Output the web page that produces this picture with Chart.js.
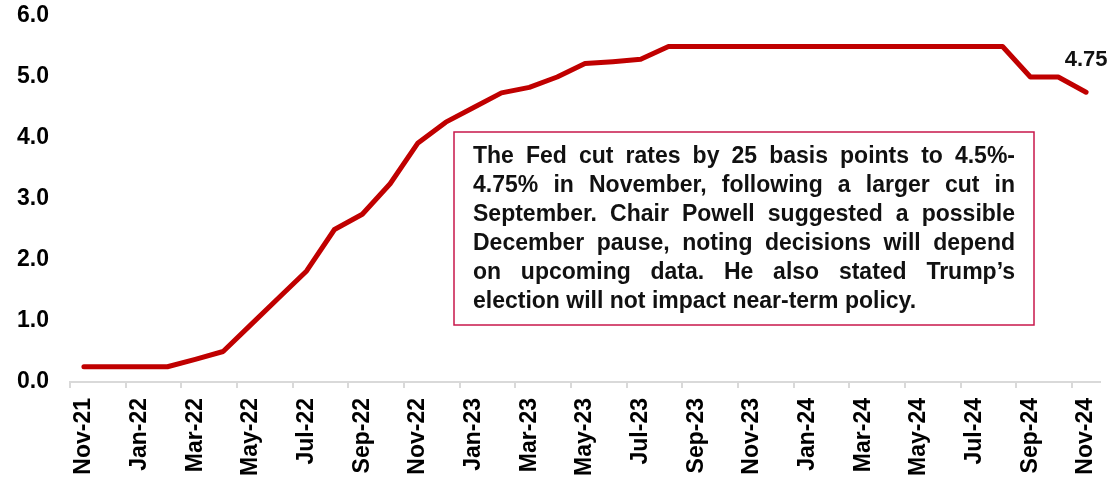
<!DOCTYPE html>
<html>
<head>
<meta charset="utf-8">
<script src="https://cdn.jsdelivr.net/npm/chart.js@4.4.1/dist/chart.umd.min.js"></script>
<style>
  html, body { margin: 0; padding: 0; background: #fff; }
  #wrap { width: 1111px; height: 480px; }
</style>
</head>
<body>
<div id="wrap"><canvas id="chartFedRate"></canvas></div>
<script>
// Fed funds rate, monthly, Nov-21 .. Nov-24
const months = [
  'Nov-21', 'Dec-21', 'Jan-22', 'Feb-22', 'Mar-22', 'Apr-22', 'May-22', 'Jun-22',
  'Jul-22', 'Aug-22', 'Sep-22', 'Oct-22', 'Nov-22', 'Dec-22', 'Jan-23', 'Feb-23',
  'Mar-23', 'Apr-23', 'May-23', 'Jun-23', 'Jul-23', 'Aug-23', 'Sep-23', 'Oct-23',
  'Nov-23', 'Dec-23', 'Jan-24', 'Feb-24', 'Mar-24', 'Apr-24', 'May-24', 'Jun-24',
  'Jul-24', 'Aug-24', 'Sep-24', 'Oct-24', 'Nov-24'
];
const fedRate = [
  0.25, 0.25, 0.25, 0.25, 0.37, 0.50, 0.94, 1.38,
  1.82, 2.50, 2.75, 3.25, 3.92, 4.26, 4.50, 4.74,
  4.83, 5.00, 5.22, 5.25, 5.29, 5.50, 5.50, 5.50,
  5.50, 5.50, 5.50, 5.50, 5.50, 5.50, 5.50, 5.50,
  5.50, 5.50, 5.00, 5.00, 4.75
];
const yTicks = [0, 1, 2, 3, 4, 5, 6];
const noteLines = [
  'The Fed cut rates by 25 basis points to 4.5%-',
  '4.75% in November, following a larger cut in',
  'September. Chair Powell suggested a possible',
  'December pause, noting decisions will depend',
  'on upcoming data. He also stated Trump\u2019s',
  'election will not impact near-term policy.'
];

const FONT = 'Arial, "Liberation Sans", Helvetica, sans-serif';

// boxed comment, justified like a text box
const noteBox = {
  id: 'noteBox',
  afterDatasetsDraw(chart, args, opts) {
    const ctx = chart.ctx;
    ctx.save();
    ctx.fillStyle = '#fff';
    ctx.fillRect(opts.left, opts.top, opts.width, opts.height);
    ctx.strokeStyle = opts.borderColor;
    ctx.lineWidth = opts.borderWidth;
    ctx.strokeRect(opts.left, opts.top, opts.width, opts.height);

    ctx.font = 'bold ' + opts.fontSize + 'px ' + FONT;
    ctx.fillStyle = '#111';
    ctx.textBaseline = 'alphabetic';
    const x0 = opts.left + opts.padX;
    const textWidth = opts.width - opts.padX * 2;
    opts.lines.forEach((line, i) => {
      const y = opts.top + opts.firstBaseline + i * opts.lineHeight;
      const words = line.split(' ');
      if (i === opts.lines.length - 1 || words.length < 2) {
        ctx.fillText(line, x0, y);
        return;
      }
      const wordsW = words.reduce((s, w) => s + ctx.measureText(w).width, 0);
      const gap = (textWidth - wordsW) / (words.length - 1);
      let cx = x0;
      words.forEach(w => {
        ctx.fillText(w, cx, y);
        cx += ctx.measureText(w).width + gap;
      });
    });
    ctx.restore();
  }
};

// value label above the last point
const lastLabel = {
  id: 'lastLabel',
  afterDatasetsDraw(chart) {
    const meta = chart.getDatasetMeta(0);
    const i = fedRate.length - 1;
    const pt = meta.data[i];
    const ctx = chart.ctx;
    ctx.save();
    ctx.font = 'bold 22px ' + FONT;
    ctx.fillStyle = '#111';
    ctx.textAlign = 'center';
    ctx.textBaseline = 'middle';
    ctx.fillText(fedRate[i].toFixed(2), pt.x, pt.y - 32);
    ctx.restore();
  }
};

// keep the plot box fixed: no extra room for overhanging labels
const noLabelPadding = s => {
  s.paddingTop = 0; s.paddingBottom = 0;
  s.paddingLeft = 0; s.paddingRight = 0;
};

new Chart(document.getElementById('chartFedRate'), {
  type: 'line',
  data: {
    labels: months,
    datasets: [{
      label: 'Fed funds rate',
      data: fedRate,
      borderColor: '#C00000',
      borderWidth: 5,
      borderCapStyle: 'round',
      borderJoinStyle: 'round',
      pointRadius: 0,
      pointHoverRadius: 0,
      tension: 0,
      fill: false
    }]
  },
  options: {
    responsive: true,
    maintainAspectRatio: false,
    animation: false,
    layout: { padding: { top: 16, right: 11, left: 0, bottom: 0 } },
    plugins: {
      legend: { display: false },
      tooltip: { enabled: false },
      noteBox: {
        left: 454, top: 132, width: 580, height: 193,
        padX: 19, firstBaseline: 31, lineHeight: 29,
        fontSize: 23,
        borderColor: '#C8174B', borderWidth: 1.5,
        lines: noteLines
      }
    },
    scales: {
      x: {
        type: 'category',
        offset: true,
        afterFit: s => { s.height = 98; noLabelPadding(s); },
        grid: {
          offset: true,
          drawOnChartArea: false,
          tickLength: 6,
          lineWidth: 2,
          color: c => (c.index % 2 === 0 && c.index < months.length) ? '#d9d9d9' : 'rgba(0,0,0,0)'
        },
        border: { display: true, color: '#d9d9d9', width: 2 },
        ticks: {
          autoSkip: false,
          maxRotation: 90,
          minRotation: 90,
          padding: 10,
          color: '#000',
          font: { family: FONT, size: 23, weight: 'bold' },
          callback: function (v, i) { return i % 2 === 0 ? this.getLabelForValue(v) : ''; }
        }
      },
      y: {
        min: 0,
        max: 6,
        afterFit: s => { s.width = 70; noLabelPadding(s); },
        afterBuildTicks: s => { s.ticks = yTicks.map(v => ({ value: v })); },
        grid: { display: false, drawTicks: false },
        border: { display: false },
        ticks: {
          padding: 21,
          color: '#000',
          font: { family: FONT, size: 23, weight: 'bold' },
          callback: v => v.toFixed(1)
        }
      }
    }
  },
  plugins: [noteBox, lastLabel]
});
</script>
</body>
</html>
